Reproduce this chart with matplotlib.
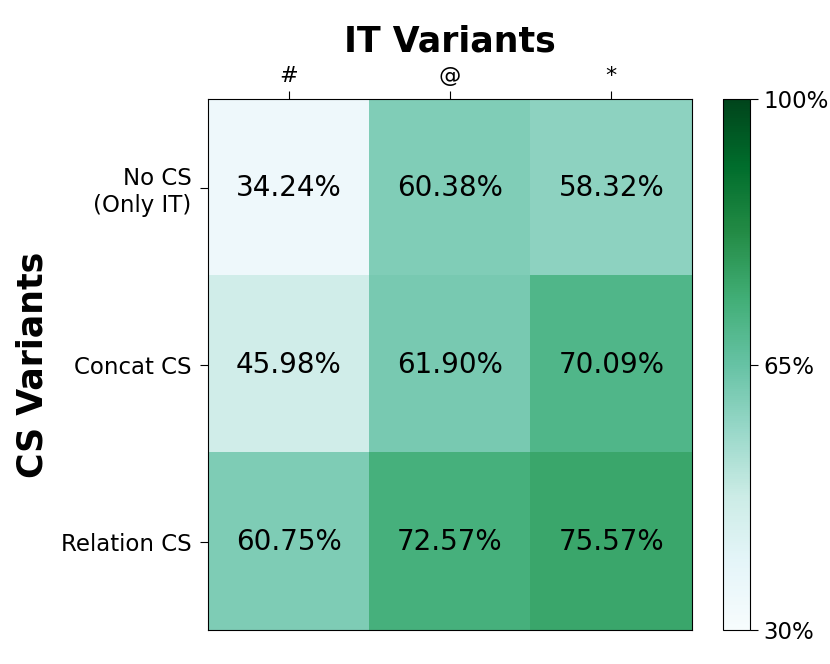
import numpy as np
import matplotlib
matplotlib.use("Agg")
import matplotlib.pyplot as plt

# accuracy (%) for each CS variant (rows) x IT variant (cols)
it_variants = ['#', '@', '*']
cs_variants = ['No CS\n(Only IT)', 'Concat CS', 'Relation CS']
scores = np.array([
    [34.24, 60.38, 58.32],
    [45.98, 61.90, 70.09],
    [60.75, 72.57, 75.57],
])
cbar_ticks = [30, 65, 100]

fig = plt.figure(figsize=(8.3, 6.64), dpi=100)
ax = fig.add_axes([0.2506, 0.0512, 0.5831, 0.7997])
cax = fig.add_axes([0.871, 0.0512, 0.0325, 0.7997])

im = ax.imshow(scores, cmap='BuGn', vmin=30, vmax=100, aspect='auto')

for i in range(scores.shape[0]):
    for j in range(scores.shape[1]):
        ax.text(j, i, '{:.2f}%'.format(scores[i, j]), ha='center', va='center',
                fontsize=20, color='black')

ax.set_xticks(range(len(it_variants)))
ax.set_xticklabels(it_variants, fontsize=16)
ax.xaxis.tick_top()
ax.set_yticks(range(len(cs_variants)))
ax.set_yticklabels(cs_variants, fontsize=16.5, ha='right')
ax.tick_params(length=6)
ax.tick_params(axis='y', pad=6)
ax.set_title('IT Variants', fontsize=25, fontweight='bold', pad=10)
ax.set_ylabel('CS Variants', fontsize=25, fontweight='bold', labelpad=8)

cb = fig.colorbar(im, cax=cax, ticks=cbar_ticks)
cb.ax.set_yticklabels(['{}%'.format(t) for t in cbar_ticks], fontsize=16.5)
cb.ax.tick_params(length=6)

fig.savefig('out.png', dpi=100)
